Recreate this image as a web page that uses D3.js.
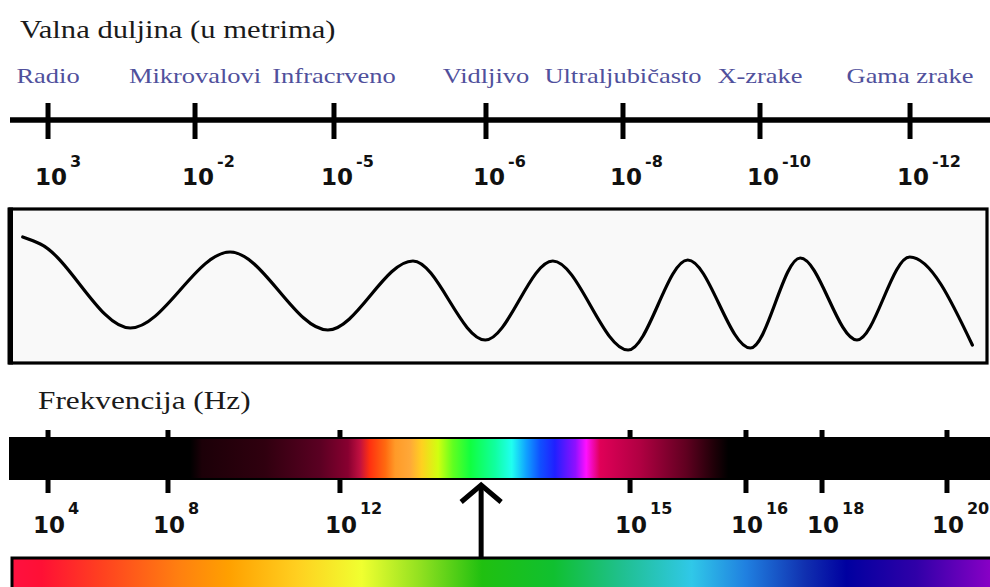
<!DOCTYPE html>
<html><head><meta charset="utf-8">
<script src="https://cdn.jsdelivr.net/npm/d3@7"></script>
<style>html,body{margin:0;padding:0;background:#fff;} svg{display:block;}</style>
</head><body>
<svg id="chart" width="990" height="587"></svg>
<script>
// ---------------- data ----------------
const wavelengthTitle = "Valna duljina (u metrima)";
const frequencyTitle = "Frekvencija (Hz)";
const bandNames = ["Radio", "Mikrovalovi", "Infracrveno", "Vidljivo", "Ultraljubičasto", "X-zrake", "Gama zrake"];
const wavelengthExponents = [3, -2, -5, -6, -8, -10, -12];
const frequencyExponents = [4, 8, 12, 15, 16, 18, 20];
// schematic wave: position along the box (0-100) and displacement of its points
const wavePosition = [1.3, 3.1, 12.3, 22.5, 32.5, 41.2, 48.6, 55.5, 63.2, 69.3, 75.7, 80.8, 86.6, 92.0, 98.4];
const waveDisplacement = [58, 51, -33, 43, -35, 34, -45, 34, -55, 35, -53, 37, -45, 38, -50];
// arrow pointing at the visible part of the frequency bar (exponent)
const visibleExponent = 13.46;

// ---------------- layout ----------------
const W = 990, H = 587;
const svg = d3.select("#chart");
const axisX0 = 10, axisX1 = 990;
// schematic (non-uniform) tick placement along the axes, as fraction of the axis length
const wlFractions = [0.0388, 0.1888, 0.3306, 0.4857, 0.6255, 0.7653, 0.9184];
const frFractions = [0.0388, 0.1612, 0.3367, 0.6327, 0.7510, 0.8286, 0.9561];
const wx = d3.scaleLinear().domain(wavelengthExponents)
  .range(wlFractions.map(f => axisX0 + f * (axisX1 - axisX0)));
const fx = d3.scaleLinear().domain(frequencyExponents)
  .range(frFractions.map(f => axisX0 + f * (axisX1 - axisX0)));

const serif = "'Liberation Serif','Times New Roman',serif";
const sansB = "'DejaVu Sans',Verdana,sans-serif";

function stretch(sel, factor) {
  sel.each(function () {
    const n = this.getComputedTextLength();
    d3.select(this).attr("textLength", n * factor).attr("lengthAdjust", "spacingAndGlyphs");
  });
}

// gradients
const defs = svg.append("defs");
const specStops = [
  [0.000, "#000000"], [0.184, "#000000"], [0.196, "#1c0008"], [0.260, "#30000f"],
  [0.316, "#5a0022"], [0.345, "#880030"], [0.357, "#c01040"], [0.367, "#ff3010"],
  [0.383, "#ff6a10"], [0.393, "#ff9a28"], [0.408, "#ffa838"], [0.420, "#ffd020"],
  [0.437, "#d0ff10"], [0.452, "#60ff20"], [0.470, "#10ff40"], [0.495, "#10ffa0"],
  [0.512, "#20fff0"], [0.527, "#10a0ff"], [0.541, "#1050ff"], [0.556, "#2020ff"],
  [0.577, "#9010ff"], [0.588, "#ff10ff"], [0.602, "#e00058"], [0.643, "#b00042"],
  [0.690, "#600020"], [0.718, "#200008"], [0.733, "#000000"], [1.000, "#000000"]
];
const rainStops = [
  [0.00, "#ff1040"], [0.03, "#ff1035"], [0.09, "#ff4020"], [0.17, "#ff8010"],
  [0.22, "#ffa000"], [0.29, "#ffd020"], [0.355, "#f0ff30"], [0.415, "#90e020"],
  [0.477, "#20c010"], [0.55, "#10c030"], [0.62, "#20c090"], [0.69, "#30c8e8"],
  [0.745, "#2080e0"], [0.805, "#1030b0"], [0.847, "#0000a0"], [0.918, "#3000a8"],
  [1.00, "#9000c8"]
];
function grad(id, stops) {
  const g = defs.append("linearGradient").attr("id", id).attr("x1", "0").attr("x2", "1").attr("y1", "0").attr("y2", "0");
  g.selectAll("stop").data(stops).join("stop")
    .attr("offset", d => d[0]).attr("stop-color", d => d[1]);
}
grad("spec", specStops);
grad("rain", rainStops);

svg.append("rect").attr("width", W).attr("height", H).attr("fill", "#fff");

// ---- wavelength section ----
svg.append("text").text(wavelengthTitle)
  .attr("x", 20).attr("y", 38).attr("font-family", serif).attr("font-size", 24.5)
  .attr("fill", "#1a1a1a").call(stretch, 1.25);

svg.selectAll("text.band").data(bandNames).join("text").attr("class", "band")
  .text(d => d)
  .attr("x", (d, i) => wx(wavelengthExponents[i]))
  .attr("y", 83).attr("text-anchor", "middle")
  .attr("font-family", serif).attr("font-size", 21.5).attr("fill", "#50509c")
  .call(stretch, 1.23);

svg.append("line").attr("x1", axisX0).attr("x2", axisX1).attr("y1", 120).attr("y2", 120)
  .attr("stroke", "#000").attr("stroke-width", 5.5);
svg.selectAll("line.wtick").data(wavelengthExponents).join("line").attr("class", "wtick")
  .attr("x1", d => wx(d)).attr("x2", d => wx(d)).attr("y1", 103).attr("y2", 139)
  .attr("stroke", "#000").attr("stroke-width", 5);

const wl = svg.selectAll("text.wl").data(wavelengthExponents).join("text").attr("class", "wl")
  .attr("x", d => wx(d) - 13).attr("y", 185)
  .attr("font-family", sansB).attr("font-weight", "bold").attr("font-size", 23).attr("fill", "#111");
wl.append("tspan").text("10");
wl.append("tspan").text(d => d).attr("dx", 3).attr("dy", -18).attr("font-size", 16);

// ---- wave box ----
svg.append("rect").attr("x", 10).attr("y", 209).attr("width", 977).attr("height", 154)
  .attr("fill", "#f9f9f9").attr("stroke", "#000").attr("stroke-width", 3.2);
svg.append("rect").attr("x", 7.5).attr("y", 207.5).attr("width", 5.5).attr("height", 157).attr("fill", "#000");

const xw = d3.scaleLinear().domain([0, 100]).range([10, 988]);
const yw = d3.scaleLinear().domain([-60, 60]).range([355, 235]);
const waveData = wavePosition.map((p, i) => [p, waveDisplacement[i]]);
svg.append("path").datum(waveData)
  .attr("d", d3.line().x(d => xw(d[0])).y(d => yw(d[1])).curve(d3.curveMonotoneX))
  .attr("fill", "none").attr("stroke", "#000").attr("stroke-width", 3.2).attr("stroke-linecap", "round");

// ---- frequency section ----
svg.append("text").text(frequencyTitle)
  .attr("x", 38).attr("y", 409).attr("font-family", serif).attr("font-size", 25)
  .attr("fill", "#1a1a1a").call(stretch, 1.25);

svg.selectAll("line.ftick").data(frequencyExponents).join("line").attr("class", "ftick")
  .attr("x1", d => fx(d)).attr("x2", d => fx(d)).attr("y1", 430).attr("y2", 493)
  .attr("stroke", "#000").attr("stroke-width", 5);
svg.append("rect").attr("x", axisX0).attr("y", 438).attr("width", axisX1 - axisX0).attr("height", 41)
  .attr("fill", "url(#spec)").attr("stroke", "#000").attr("stroke-width", 2);

const fl = svg.selectAll("text.fl").data(frequencyExponents).join("text").attr("class", "fl")
  .attr("x", d => fx(d) - 15).attr("y", 533)
  .attr("font-family", sansB).attr("font-weight", "bold").attr("font-size", 23).attr("fill", "#111");
fl.append("tspan").text("10");
fl.append("tspan").text(d => d).attr("dx", 3).attr("dy", -19).attr("font-size", 16);

// arrow
const ax = fx(visibleExponent);
svg.append("line").attr("x1", ax).attr("x2", ax).attr("y1", 486).attr("y2", 558)
  .attr("stroke", "#000").attr("stroke-width", 5);
svg.append("path").attr("d", d3.line()([[ax - 20, 502], [ax, 485], [ax + 20, 502]]))
  .attr("fill", "none").attr("stroke", "#000").attr("stroke-width", 5);

// bottom visible spectrum bar
svg.append("rect").attr("x", 12).attr("y", 558).attr("width", 985).attr("height", 40)
  .attr("fill", "url(#rain)").attr("stroke", "#000").attr("stroke-width", 3);
</script>
</body></html>
